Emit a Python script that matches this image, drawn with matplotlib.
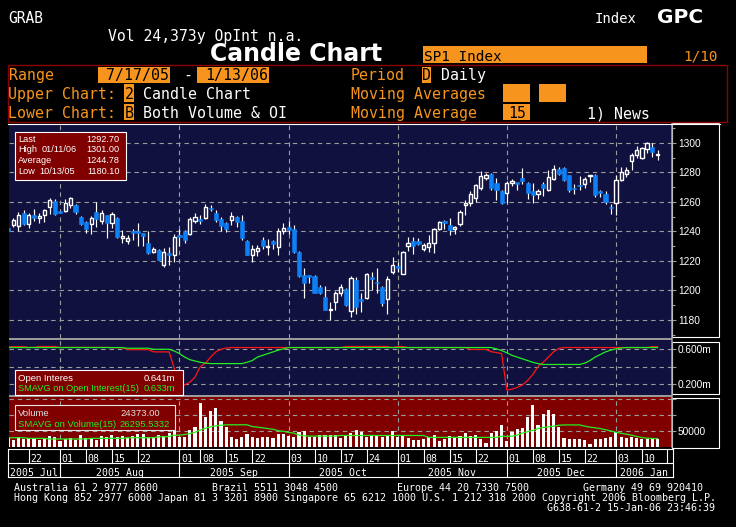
import matplotlib
matplotlib.use('Agg')
import matplotlib.pyplot as plt
from matplotlib.patches import Rectangle
from matplotlib.lines import Line2D
import numpy as np

# ---------------- data ----------------
opens = [1242.5, 1244.1, 1243.4, 1252.7, 1245.2, 1251.4, 1249.1, 1251.4, 1256.6, 1260.6,
         1253.8, 1253.8, 1257.7, 1258.1, 1249.8, 1246.4, 1245.2, 1253.2, 1247.0, 1250.9,
         1245.9, 1249.1, 1235.8, 1233.5, 1239.6, 1239.4, 1238.7, 1232.4, 1225.8, 1227.6,
         1217.0, 1224.6, 1223.8, 1237.0, 1240.3, 1238.0, 1247.0, 1247.8, 1249.3, 1255.4,
         1252.7, 1248.6, 1245.7, 1248.0, 1249.8, 1247.0, 1233.3, 1223.8, 1226.5, 1234.4,
         1229.4, 1233.3, 1229.4, 1240.3, 1243.0, 1241.9, 1226.0, 1210.6, 1209.7, 1210.0,
         1202.3, 1195.5, 1186.5, 1192.0, 1198.4, 1201.1, 1186.0, 1206.8, 1193.2, 1194.8,
         1208.2, 1205.2, 1202.3, 1193.9, 1212.4, 1215.6, 1210.9, 1230.5, 1233.3, 1233.3,
         1227.8, 1229.4, 1232.1, 1241.4, 1246.2, 1244.6, 1241.4, 1244.8, 1258.1, 1259.3,
         1262.7, 1269.5, 1276.5, 1279.2, 1272.9, 1267.4, 1266.1, 1272.8, 1272.4, 1276.5,
         1272.9, 1267.4, 1265.6, 1272.4, 1268.3, 1275.3, 1282.6, 1283.3, 1278.1, 1268.9,
         1270.9, 1271.9, 1277.4, 1278.5, 1266.3, 1265.6, 1255.9, 1259.3, 1275.1, 1278.7,
         1287.8, 1291.6, 1290.0, 1296.2, 1297.3, 1291.6]
highs = [1243.0, 1249.3, 1253.2, 1254.3, 1252.5, 1255.4, 1252.5, 1255.4, 1262.9, 1262.2,
         1254.0, 1262.2, 1263.3, 1258.8, 1250.2, 1247.0, 1250.2, 1260.0, 1254.3, 1251.5,
         1253.0, 1250.0, 1241.0, 1237.3, 1241.9, 1245.7, 1239.0, 1240.3, 1229.4, 1228.0,
         1229.0, 1229.4, 1238.5, 1241.9, 1240.8, 1249.8, 1252.5, 1251.0, 1258.8, 1257.7,
         1254.3, 1249.8, 1246.4, 1253.2, 1250.3, 1251.4, 1233.9, 1231.0, 1231.0, 1236.6,
         1235.0, 1234.4, 1242.5, 1245.7, 1247.0, 1244.1, 1226.5, 1215.4, 1210.2, 1210.5,
         1203.4, 1202.9, 1192.0, 1199.5, 1204.1, 1201.6, 1209.5, 1209.0, 1198.2, 1211.8,
         1212.4, 1215.4, 1202.8, 1209.7, 1222.6, 1219.2, 1226.7, 1236.2, 1236.2, 1235.7,
         1232.1, 1237.3, 1242.3, 1246.9, 1248.0, 1249.3, 1243.4, 1254.8, 1261.1, 1267.4,
         1272.4, 1281.0, 1279.6, 1279.7, 1276.5, 1267.9, 1274.2, 1275.8, 1272.9, 1283.3,
         1273.4, 1272.9, 1269.0, 1273.5, 1281.9, 1284.8, 1283.7, 1283.7, 1278.6, 1272.4,
         1277.4, 1276.9, 1278.1, 1279.2, 1267.9, 1267.4, 1258.8, 1278.1, 1283.7, 1283.7,
         1293.2, 1297.7, 1297.3, 1301.0, 1300.0, 1295.5]
lows = [1239.5, 1242.8, 1240.3, 1244.1, 1242.5, 1247.0, 1245.7, 1246.4, 1252.0, 1251.0,
        1252.5, 1253.2, 1256.1, 1252.0, 1244.3, 1238.9, 1238.5, 1243.0, 1244.8, 1235.7,
        1242.3, 1235.7, 1232.0, 1231.7, 1234.0, 1230.5, 1230.5, 1224.9, 1225.3, 1220.4,
        1216.0, 1217.0, 1219.2, 1230.5, 1232.0, 1237.3, 1245.7, 1244.8, 1248.6, 1253.8,
        1246.4, 1240.3, 1239.4, 1244.1, 1243.0, 1233.9, 1223.8, 1219.2, 1223.1, 1228.3,
        1223.8, 1228.3, 1224.4, 1238.5, 1238.5, 1225.3, 1209.0, 1194.8, 1205.0, 1198.2,
        1197.7, 1186.9, 1180.1, 1186.9, 1196.6, 1189.8, 1181.9, 1184.2, 1185.7, 1194.3,
        1200.5, 1198.2, 1189.8, 1184.2, 1210.9, 1212.4, 1210.9, 1226.7, 1224.9, 1231.0,
        1226.7, 1226.0, 1225.3, 1240.7, 1241.9, 1237.3, 1238.5, 1243.4, 1250.9, 1257.0,
        1260.0, 1267.9, 1275.1, 1267.9, 1261.1, 1258.8, 1259.3, 1270.6, 1267.9, 1272.4,
        1262.2, 1259.5, 1262.2, 1263.8, 1267.4, 1274.7, 1278.1, 1274.2, 1266.7, 1265.2,
        1267.9, 1269.7, 1273.5, 1263.3, 1263.3, 1258.4, 1251.6, 1250.9, 1274.2, 1276.9,
        1281.9, 1290.0, 1289.4, 1293.2, 1290.5, 1288.2]
closes = [1240.5, 1248.0, 1250.9, 1244.8, 1250.9, 1248.9, 1250.2, 1254.8, 1261.5, 1251.6,
          1252.7, 1259.3, 1262.4, 1253.2, 1244.8, 1241.9, 1248.9, 1248.6, 1252.5, 1245.7,
          1252.0, 1236.2, 1236.2, 1235.7, 1239.2, 1239.0, 1236.9, 1225.6, 1228.3, 1220.8,
          1226.0, 1224.4, 1236.0, 1236.6, 1234.4, 1248.6, 1249.8, 1247.3, 1256.6, 1255.0,
          1247.5, 1243.4, 1241.9, 1250.5, 1246.6, 1235.7, 1224.4, 1228.3, 1229.0, 1230.5,
          1229.9, 1231.2, 1240.3, 1242.3, 1240.7, 1226.0, 1209.5, 1205.2, 1209.3, 1198.4,
          1198.6, 1187.1, 1186.9, 1198.2, 1202.7, 1190.5, 1208.6, 1188.7, 1192.8, 1211.3,
          1207.9, 1205.0, 1191.4, 1207.9, 1217.6, 1215.4, 1226.0, 1232.1, 1230.3, 1231.2,
          1230.8, 1232.1, 1241.9, 1246.4, 1246.0, 1241.2, 1243.0, 1253.2, 1258.4, 1265.6,
          1271.3, 1277.4, 1278.5, 1269.7, 1267.9, 1259.5, 1272.9, 1273.0, 1272.2, 1274.2,
          1266.1, 1264.9, 1267.4, 1269.7, 1276.9, 1282.6, 1278.7, 1274.7, 1267.9, 1268.7,
          1270.6, 1275.6, 1277.6, 1264.5, 1266.1, 1260.0, 1255.7, 1275.1, 1280.3, 1281.9,
          1292.1, 1295.5, 1296.8, 1300.0, 1293.9, 1292.7]

open_interest_m = [0.630, 0.630, 0.630, 0.630, 0.622, 0.622, 0.632, 0.632, 0.632, 0.632,
                   0.622, 0.622, 0.622, 0.622, 0.622, 0.622, 0.622, 0.622, 0.622, 0.622,
                   0.618, 0.618, 0.618, 0.596, 0.596, 0.596, 0.596, 0.596, 0.570, 0.570,
                   0.570, 0.570, 0.380, 0.170, 0.190, 0.220, 0.280, 0.400, 0.440, 0.510,
                   0.570, 0.600, 0.615, 0.620, 0.620, 0.620, 0.620, 0.620, 0.620, 0.620,
                   0.620, 0.620, 0.620, 0.620, 0.620, 0.620, 0.620, 0.620, 0.620, 0.620,
                   0.620, 0.620, 0.620, 0.620, 0.620, 0.632, 0.632, 0.632, 0.632, 0.632,
                   0.632, 0.632, 0.632, 0.632, 0.620, 0.632, 0.632, 0.620, 0.620, 0.620,
                   0.620, 0.620, 0.620, 0.620, 0.620, 0.620, 0.620, 0.620, 0.620, 0.598,
                   0.598, 0.598, 0.598, 0.572, 0.562, 0.550, 0.130, 0.140, 0.160, 0.190,
                   0.240, 0.310, 0.400, 0.450, 0.510, 0.570, 0.610, 0.620, 0.620, 0.620,
                   0.620, 0.620, 0.620, 0.620, 0.620, 0.620, 0.620, 0.620, 0.620, 0.620,
                   0.620, 0.620, 0.620, 0.620, 0.630, 0.630]
oi_smavg15_m = [0.620, 0.620, 0.620, 0.620, 0.620, 0.620, 0.620, 0.620, 0.620, 0.620,
                0.620, 0.620, 0.620, 0.620, 0.620, 0.620, 0.620, 0.620, 0.620, 0.620,
                0.620, 0.620, 0.620, 0.612, 0.612, 0.612, 0.612, 0.612, 0.600, 0.600,
                0.600, 0.600, 0.580, 0.550, 0.510, 0.480, 0.465, 0.450, 0.440, 0.435,
                0.435, 0.435, 0.435, 0.435, 0.435, 0.435, 0.450, 0.470, 0.510, 0.530,
                0.550, 0.570, 0.590, 0.605, 0.620, 0.620, 0.620, 0.620, 0.620, 0.620,
                0.620, 0.620, 0.620, 0.620, 0.620, 0.620, 0.620, 0.620, 0.620, 0.620,
                0.620, 0.620, 0.620, 0.620, 0.620, 0.620, 0.620, 0.620, 0.620, 0.620,
                0.620, 0.620, 0.620, 0.620, 0.620, 0.620, 0.620, 0.620, 0.620, 0.620,
                0.620, 0.620, 0.620, 0.620, 0.605, 0.585, 0.560, 0.530, 0.510, 0.490,
                0.470, 0.450, 0.435, 0.425, 0.425, 0.425, 0.425, 0.425, 0.425, 0.425,
                0.425, 0.440, 0.470, 0.510, 0.540, 0.570, 0.590, 0.605, 0.615, 0.620,
                0.620, 0.620, 0.620, 0.620, 0.620, 0.620]
volume_k = [27, 22, 30, 25, 29, 24, 21, 26, 35, 31,
            20, 25, 27, 22, 36, 29, 28, 22, 34, 31,
            36, 30, 33, 27, 34, 40, 40, 31, 30, 37,
            33, 45, 50, 30, 32, 53, 63, 139, 93, 114,
            123, 82, 63, 32, 26, 32, 40, 32, 28, 32,
            32, 28, 40, 40, 34, 32, 48, 50, 32, 32,
            37, 37, 37, 37, 28.5, 37, 43, 53, 46, 32,
            34, 34, 32, 35, 50, 32, 34, 28.5, 23, 21,
            24, 32, 37, 18, 24, 34, 28.5, 34, 43, 34,
            37, 26, 13.5, 43, 50, 69, 17.7, 47.8, 56.5, 58.7,
            93, 131.6, 69.4, 101.6, 114.5, 101.6, 64, 28.5, 24.2, 24.2,
            24.2, 21, 10.3, 24.2, 24.2, 28.5, 31.7, 45.8, 31.7, 28.5,
            31.7, 28.5, 26.4, 26.4, 26.4, 24.373]
vol_smavg15_k = [29, 29, 29, 29, 27, 27, 27, 27, 25, 25,
                 25, 25, 25, 25, 25, 25, 27, 27, 27, 27,
                 27, 27, 27, 29, 29, 29, 29, 29, 29, 32,
                 32, 33, 37, 37, 39, 42, 46, 53, 58.7, 63,
                 66, 68, 69.4, 69.4, 69.4, 69.4, 69.4, 64, 62, 60,
                 57.5, 55.5, 51, 49, 45.5, 43.5, 37, 35, 34, 34,
                 34, 34, 34, 34, 36, 36, 36, 36, 36, 36,
                 36, 36, 36, 36, 36, 36, 36, 36, 36, 36,
                 36, 30, 30, 30, 30, 30, 30, 30, 30, 30,
                 30, 30, 30, 30, 30, 34, 33, 34, 37, 43.5,
                 48, 52, 57.5, 61, 63, 65, 68, 69, 69, 69,
                 69, 65, 62, 60, 57.5, 54, 50, 46, 43, 40,
                 37, 33, 29.5, 27.5, 26.5, 26.3]

day_tick_index = [4, 10, 15, 20, 25, 33, 37, 42, 47, 54, 59, 64, 69, 75, 80, 85, 90,
                  96, 101, 106, 111, 117, 122]
day_tick_labels = ['22', '01', '08', '15', '22', '01', '08', '15', '22', '03', '10', '17',
                   '24', '01', '08', '15', '22', '01', '08', '15', '22', '03', '10']
month_start_index = [0, 10, 33, 54, 75, 96, 117]
month_labels = ['2005 Jul', '2005 Aug', '2005 Sep', '2005 Oct', '2005 Nov', '2005 Dec',
                '2006 Jan']
price_ticks = [1180, 1200, 1220, 1240, 1260, 1280, 1300]
price_minor = [1170, 1190, 1210, 1230, 1250, 1270, 1290, 1310]
oi_ticks = [0.2, 0.4, 0.6]
oi_tick_labels = ['0.200m', '', '0.600m']
vol_ticks = [50000, 100000, 150000]
vol_tick_labels = ['50000', '', '']

# ---------------- style ----------------
W, H = 736, 527
NAVY = '#11113f'
DARKRED = '#800000'
ORANGE = '#f7941d'
BLUE = '#0d80f5'
GRID = '#9c9c9c'
GREEN = '#22ee22'
RED = '#ff1414'
MONO = 'DejaVu Sans Mono'
SANS = 'Liberation Sans'
plt.rcParams['font.family'] = [MONO, 'DejaVu Sans']

fig = plt.figure(figsize=(W / 100, H / 100), dpi=100, facecolor='black')


def ax_at(x0, y0, x1, y1):
    return fig.add_axes([x0 / W, 1 - y1 / H, (x1 - x0) / W, (y1 - y0) / H])


def rect(x0, y0, x1, y1, **kw):
    fig.patches.append(Rectangle((x0 / W, 1 - y1 / H), (x1 - x0) / W, (y1 - y0) / H,
                                 transform=fig.transFigure, **kw))


def line(x0, y0, x1, y1, **kw):
    fig.add_artist(Line2D([x0 / W, x1 / W], [1 - y0 / H, 1 - y1 / H],
                          transform=fig.transFigure, **kw))


def txt(x, y, s, **kw):
    kw.setdefault('va', 'baseline')
    kw.setdefault('color', 'white')
    fig.text(x / W, 1 - y / H, s, **kw)


x = np.arange(len(closes))
XLIM = (1 / 5.196, 664 / 5.196)
dash = (0, (4, 3.5))


def style_panel(ax, bg):
    ax.set_facecolor(bg)
    ax.set_xlim(*XLIM)
    for s in ax.spines.values():
        s.set_visible(False)
    ax.set_xticks(month_start_index[1:])
    ax.tick_params(axis='x', length=0, labelbottom=False)
    ax.yaxis.tick_right()
    ax.tick_params(axis='y', which='major', direction='out', length=3, width=0.8,
                   color=GRID, pad=1.2, labelsize=7.3, labelcolor='white')
    ax.tick_params(axis='y', which='minor', direction='out', length=2, width=0.8,
                   color=GRID)
    ax.grid(True, which='major', color=GRID, linestyle=dash, linewidth=0.8)
    ax.set_axisbelow(True)


# ---------------- upper: candles ----------------
ax1 = ax_at(9, 123.5, 672, 338)
style_panel(ax1, NAVY)
ax1.set_ylim(1300 - (338 - 143) / 1.475, 1300 + (143 - 123.5) / 1.475)
ax1.set_yticks(price_ticks)
ax1.set_yticks(price_minor, minor=True)
ax1.set_yticklabels([str(t) for t in price_ticks], fontfamily=SANS)

o = np.array(opens); c = np.array(closes)
up = c >= o
bottom = np.minimum(o, c)
height = np.maximum(np.abs(c - o), 1.1)
ax1.vlines(x, lows, highs, color='white', lw=0.85, zorder=2)
ax1.bar(x[up], height[up], bottom=bottom[up], width=0.62, facecolor=NAVY,
        edgecolor='white', linewidth=1.0, zorder=3)
ax1.bar(x[~up], height[~up], bottom=bottom[~up], width=0.8, facecolor=BLUE,
        edgecolor=BLUE, linewidth=0.4, zorder=3)

# ---------------- middle: open interest ----------------
ax2 = ax_at(9, 340, 672, 395)
style_panel(ax2, NAVY)
ax2.set_ylim(0.073, 0.707)
ax2.set_yticks(oi_ticks)
ax2.set_yticklabels(oi_tick_labels, fontfamily=SANS)
ax2.plot(x, open_interest_m, color=RED, lw=0.9, zorder=3)
ax2.plot(x, oi_smavg15_m, color=GREEN, lw=0.9, zorder=4)

# ---------------- lower: volume ----------------
ax3 = ax_at(9, 397, 672, 447)
style_panel(ax3, DARKRED)
ax3.set_ylim(0, 156250)
ax3.set_yticks(vol_ticks)
ax3.set_yticklabels(vol_tick_labels, fontfamily=SANS)
ax3.bar(x, np.array(volume_k) * 1000, width=0.6, color='white', zorder=3)
ax3.plot(x, np.array(vol_smavg15_k) * 1000, color=GREEN, lw=0.9, zorder=4)

# separators, axis line, label boxes
rect(9, 338, 672, 340, facecolor='#9a9a9a', edgecolor='none')
rect(9, 395, 672, 397, facecolor='#9a9a9a', edgecolor='none')
line(672, 123.5, 672, 447, color='#a8a8a8', lw=1.1)
line(8, 123.5, 720, 123.5, color='white', lw=0.8)
for (a, b) in [(123.5, 337.3), (341.7, 394.3), (398.3, 448)]:
    rect(672, a, 719.3, b, fill=False, edgecolor='white', lw=0.8)

# ---------------- legend boxes ----------------
rect(15.3, 131.7, 126.3, 180, facecolor=DARKRED, edgecolor='white', lw=0.8)
leg_rows = [('Last', '', '1292.70'), ('High', '01/11/06', '1301.00'),
            ('Average', '', '1244.78'), ('Low', '10/13/05', '1180.10')]
date_x = {'01/11/06': 41.3, '10/13/05': 39.7}
for k, (a, d, v) in enumerate(leg_rows):
    yb = 141.7 + k * 10.8
    txt(18, yb, a, fontfamily=SANS, fontsize=6.6)
    if d:
        txt(date_x[d], yb, d, fontfamily=SANS, fontsize=6.6)
    txt(119.7, yb, v, fontfamily=SANS, fontsize=6.6, ha='right')

rect(15.3, 370, 183, 395, facecolor=DARKRED, edgecolor='white', lw=0.8)
txt(18, 380.7, 'Open Interes', fontfamily=SANS, fontsize=6.8)
txt(174.7, 380.7, '0.641m', fontfamily=SANS, fontsize=6.8, ha='right')
txt(18, 390.7, 'SMAVG on Open Interest(15)', fontfamily=SANS, fontsize=6.7, color=GREEN)
txt(174.7, 390.7, '0.633m', fontfamily=SANS, fontsize=6.8, ha='right', color=GREEN)

rect(15.3, 405, 174.7, 430, facecolor=DARKRED, edgecolor='#e8e8e8', lw=0.8)
txt(18, 416, 'Volume', fontfamily=SANS, fontsize=6.8, color='#e0e0e0')
txt(159.7, 416, '24373.00', fontfamily=SANS, fontsize=6.8, ha='right', color='#e0e0e0')
txt(18, 426.7, 'SMAVG on Volume(15)', fontfamily=SANS, fontsize=6.8, color=GREEN)
txt(169.7, 426.7, '26295.5332', fontfamily=SANS, fontsize=6.8, ha='right', color=GREEN)

# ---------------- date bar ----------------
axd = ax_at(8, 449.3, 673, 477.3)
axd.set_facecolor('black')
axd.set_xlim(0, 665 / 5.196)
axd.set_ylim(0, 2)
axd.set_xticks([]); axd.set_yticks([])
for s in axd.spines.values():
    s.set_color('white'); s.set_linewidth(0.8)
axd.axhline(1, color='white', lw=0.8)
axd.vlines(day_tick_index, 1, 2, color='white', lw=0.8)
axd.vlines([659 / 5.196], 1, 2, color='white', lw=0.8)
axd.vlines(month_start_index[1:], 0, 1, color='white', lw=0.8)
for i, lab in zip(day_tick_index, day_tick_labels):
    axd.text(i + 0.35, 1.12, lab, fontsize=7.1, color='white', va='baseline')
bounds = month_start_index + [665 / 5.196]
for k, lab in enumerate(month_labels):
    axd.text((bounds[k] + bounds[k + 1]) / 2, 0.1, lab, fontsize=7.1, color='white',
             ha='center', va='baseline')

# ---------------- header ----------------
txt(8.5, 22.7, 'GRAB', fontsize=10.5)
txt(595, 22.7, 'Index', fontsize=10)
txt(657, 22.7, 'GPC', fontsize=14.5, fontweight='bold', fontfamily='DejaVu Sans')
txt(108, 40.7, 'Vol 24,373y OpInt n.a.', fontsize=10.6)
txt(296, 60.7, 'Candle Chart', fontsize=17, fontweight='bold', fontfamily='DejaVu Sans',
    ha='center')
rect(422.5, 46, 647, 63.3, facecolor=ORANGE, edgecolor='none')
txt(424, 61, 'SP1 Index', fontsize=10.4, color='black')
txt(683, 61, '1/10', fontsize=10.4, color=ORANGE)
rect(7.5, 65.3, 727, 121.7, fill=False, edgecolor='#8b0000', lw=1)

# row 1
txt(8.5, 80, 'Range', fontsize=10.7, color=ORANGE)
rect(97.7, 66.7, 170, 82.7, facecolor=ORANGE, edgecolor='none')
txt(169, 80, '7/17/05', fontsize=10.7, color='black', ha='right')
txt(183, 80, '-', fontsize=10.7)
rect(197, 66.7, 268.5, 82.7, facecolor=ORANGE, edgecolor='none')
txt(268, 80, '1/13/06', fontsize=10.7, color='black', ha='right')
txt(351, 80, 'Period', fontsize=10.7, color=ORANGE)
rect(421.6, 66.7, 430.5, 82.7, facecolor=ORANGE, edgecolor='none')
txt(422.2, 80, 'D', fontsize=10.7, color='black')
txt(441, 80, 'Daily', fontsize=10.7)
# row 2
txt(8.5, 99.3, 'Upper Chart:', fontsize=10.7, color=ORANGE)
rect(124.4, 84.3, 133.8, 101.7, facecolor=ORANGE, edgecolor='none')
txt(124.8, 99.3, '2', fontsize=10.7, color='black')
txt(143, 99.3, 'Candle Chart', fontsize=10.7)
txt(351, 99.3, 'Moving Averages', fontsize=10.7, color=ORANGE)
rect(503.3, 84.3, 529.6, 101.7, facecolor=ORANGE, edgecolor='none')
rect(539, 84.3, 565.7, 101.7, facecolor=ORANGE, edgecolor='none')
# row 3
txt(8.5, 118.3, 'Lower Chart:', fontsize=10.7, color=ORANGE)
rect(124.4, 104.3, 133.8, 120, facecolor=ORANGE, edgecolor='none')
txt(124.8, 118.3, 'B', fontsize=10.7, color='black')
txt(143, 118.3, 'Both Volume & OI', fontsize=10.7)
txt(351, 118.3, 'Moving Average', fontsize=10.7, color=ORANGE)
rect(503.3, 104.3, 529.6, 120, facecolor=ORANGE, edgecolor='none')
txt(517, 118.3, '15', fontsize=10.7, color='black', ha='center')
txt(587, 118.3, '1) News', fontsize=10.7)

# ---------------- footer ----------------
txt(14, 491, 'Australia 61 2 9777 8600', fontsize=7.2)
txt(212, 491, 'Brazil 5511 3048 4500', fontsize=7.2)
txt(397, 491, 'Europe 44 20 7330 7500', fontsize=7.2)
txt(583, 491, 'Germany 49 69 920410', fontsize=7.2)
txt(14, 501.3, 'Hong Kong 852 2977 6000 Japan 81 3 3201 8900 Singapore 65 6212 1000 '
    'U.S. 1 212 318 2000 Copyright 2006 Bloomberg L.P.', fontsize=7.2)
txt(715, 511, 'G638-61-2 15-Jan-06 23:46:39', fontsize=7.2, ha='right')

fig.savefig('out.png', dpi=100, facecolor='black')
